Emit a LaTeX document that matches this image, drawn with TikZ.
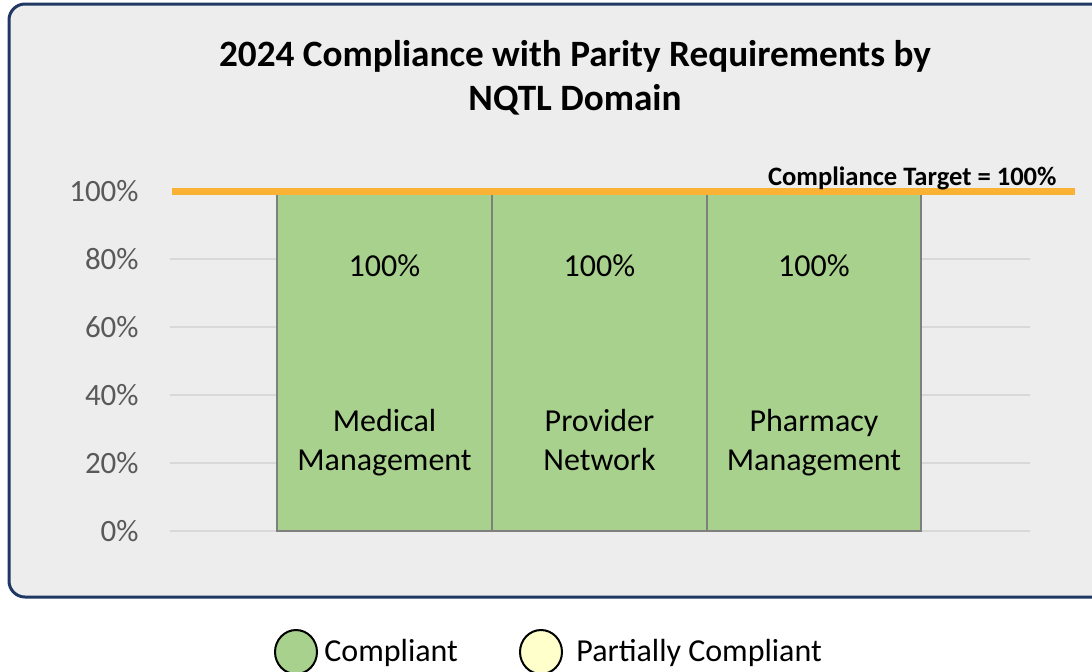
\documentclass[tikz,border=0pt]{standalone}
\usepackage{fontspec}
\setmainfont{Carlito}
\definecolor{panelbg}{RGB}{237,237,237}
\definecolor{panelline}{RGB}{31,56,100}
\definecolor{gridgray}{RGB}{217,217,217}
\definecolor{ticktext}{RGB}{89,89,89}
\definecolor{barfill}{RGB}{169,209,142}
\definecolor{baredge}{RGB}{127,127,127}
\definecolor{targetorange}{RGB}{250,178,52}
\definecolor{partialfill}{RGB}{255,255,204}
\tikzset{
  tick/.style={anchor=east,text=ticktext,font=\fontsize{15.5}{18}\selectfont,inner sep=0pt},
  barbox/.style={fill=barfill,draw=baredge,line width=1pt},
  barvalue/.style={font=\fontsize{16}{19.5}\selectfont,inner sep=0pt},
  barname/.style={anchor=base,font=\fontsize{16}{19.5}\selectfont,align=center,inner sep=0pt},
  legenddot/.style={ellipse,draw=black,line width=1pt,minimum width=21pt,minimum height=22pt,inner sep=0pt},
  legendtext/.style={anchor=west,font=\fontsize{16}{19.5}\selectfont,inner sep=0pt}
}
\usetikzlibrary{shapes.geometric}
\begin{document}
\begin{tikzpicture}[x=0.5pt,y=-0.5pt]
  \useasboundingbox[fill=white] (0,0) rectangle (1092,671);
  \clip (0,0) rectangle (1092,671);
  % panel
  \draw[fill=panelbg,draw=panelline,line width=1.5pt,rounded corners=8pt]
    (9,4) rectangle (1110,597);
  \node[font=\bfseries\fontsize{18.6}{22}\selectfont,align=center] (title) at (575,78)
    {2024 Compliance with Parity Requirements by\\NQTL Domain};
  % grid
  \foreach \v in {0,20,40,60,80}
    \draw[gridgray,line width=0.8pt] (170,{531-3.4*\v}) -- (1030,{531-3.4*\v});
  \draw
    (139,531) node[tick] (t0){0\%}
    (139,463) node[tick] (t20){20\%}
    (139,395) node[tick] (t40){40\%}
    (139,327) node[tick] (t60){60\%}
    (139,259) node[tick] (t80){80\%}
    (139,191) node[tick] (t100){100\%};
  % bars
  \draw[barbox] (277,191) rectangle (492,531);
  \draw[barbox] (492,191) rectangle (707,531);
  \draw[barbox] (707,191) rectangle (921,531);
  \draw
    (384.5,266) node[barvalue] (v1){100\%}
    (599.5,266) node[barvalue] (v2){100\%}
    (814,266) node[barvalue] (v3){100\%}
    (384.5,470) node[barname] (b1){Medical\\Management}
    (599.5,470) node[barname] (b2){Provider\\Network}
    (814,470) node[barname] (b3){Pharmacy\\Management};
  % target
  \draw[targetorange,line width=3.5pt] (172,191) -- (1075,191);
  \node[anchor=base east,font=\bfseries\fontsize{13.3}{16}\selectfont,inner sep=0pt] (target)
    at (1057,185) {Compliance Target = 100\%};
  % legend
  \node[legenddot,fill=barfill] (c1) at (296,652) {};
  \node[legendtext] (l1) at (324,653) {Compliant};
  \node[legenddot,fill=partialfill] (c2) at (541,652) {};
  \node[legendtext] (l2) at (576,653) {Partially Compliant};
\end{tikzpicture}
\end{document}
